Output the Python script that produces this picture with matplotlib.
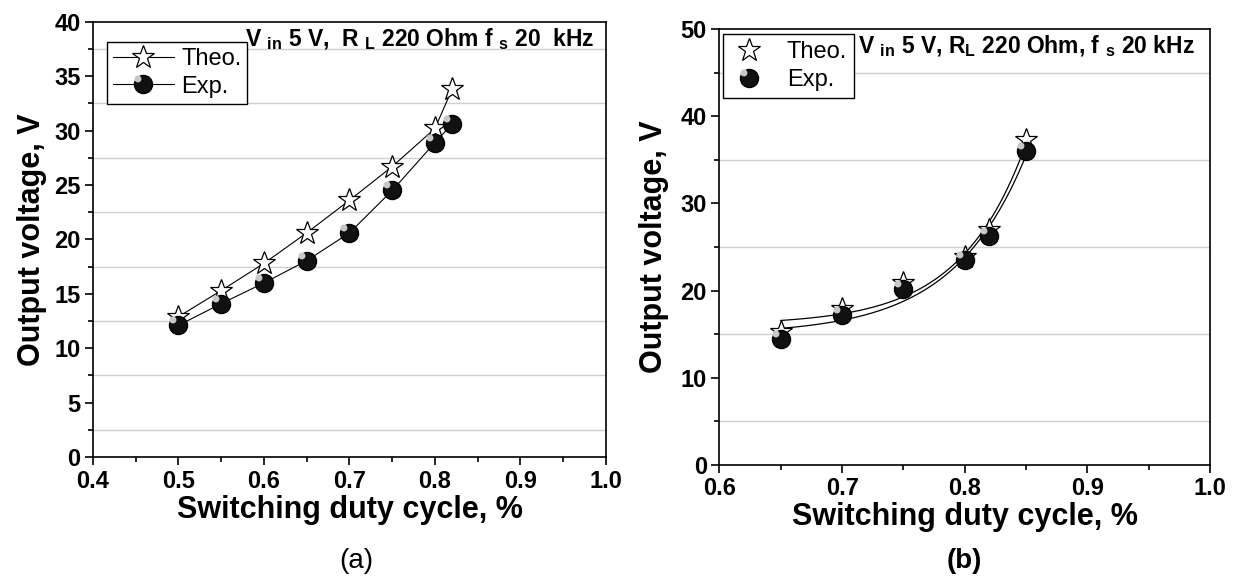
import matplotlib.pyplot as plt
import numpy as np
from matplotlib.path import Path
from matplotlib.ticker import MultipleLocator
from matplotlib.legend_handler import HandlerTuple

plt.rcParams['font.family'] = ['Liberation Sans', 'DejaVu Sans']
plt.rcParams['mathtext.fontset'] = 'custom'
plt.rcParams['mathtext.rm'] = 'Liberation Sans'
plt.rcParams['mathtext.bf'] = 'Liberation Sans:bold'

# (a) duty cycle vs output voltage
duty_a = [0.50, 0.55, 0.60, 0.65, 0.70, 0.75, 0.80, 0.82]
theo_a = [12.9, 15.3, 17.8, 20.6, 23.6, 26.7, 30.2, 33.8]
exp_a = [12.1, 14.1, 16.0, 18.05, 20.6, 24.5, 28.9, 30.6]

# (b)
duty_b = [0.65, 0.70, 0.75, 0.80, 0.82, 0.85]
theo_b = [15.3, 17.9, 20.9, 23.9, 26.9, 37.3]
exp_b = [14.5, 17.2, 20.2, 23.5, 26.3, 36.0]

# highlight spot on the black "ball" markers
hl_path = Path.circle(center=(-0.35, 0.35), radius=0.22)


def exp_fit(x, y):
    # y = y0 + A*exp(x/t), like Origin's ExpGrow1
    x = np.asarray(x)
    y = np.asarray(y)
    best = None
    for t in np.linspace(0.01, 0.3, 600):
        M = np.column_stack([np.ones_like(x), np.exp(x / t)])
        coef = np.linalg.lstsq(M, y, rcond=None)[0]
        err = np.sum((M @ coef - y) ** 2)
        if best is None or err < best[0]:
            best = (err, coef[0], coef[1], t)
    return best[1:]


def ball(ax, x, y, ls):
    b, = ax.plot(x, y, linestyle=ls, color='k', lw=0.8, marker='o',
                 markersize=13, markerfacecolor='#111111', markeredgecolor='k', zorder=4)
    h, = ax.plot(x, y, linestyle='none', marker=hl_path, markersize=13,
                 markerfacecolor='#c8c8c8', markeredgecolor='none', zorder=5)
    return (b, h)


def style(ax, xmaj, xmin, ymaj, ymin):
    ax.xaxis.set_major_locator(MultipleLocator(xmaj))
    ax.xaxis.set_minor_locator(MultipleLocator(xmin))
    ax.yaxis.set_major_locator(MultipleLocator(ymaj))
    ax.yaxis.set_minor_locator(MultipleLocator(ymin))
    ax.tick_params(which='major', direction='out', length=6, width=1.2, labelsize=17, pad=3)
    ax.tick_params(which='minor', direction='out', length=3.5, width=1.2)
    for lab in ax.get_xticklabels() + ax.get_yticklabels():
        lab.set_fontweight('bold')
    for s in ax.spines.values():
        s.set_linewidth(1.2)
    ax.grid(which='minor', axis='y', color='#cfcfcf', lw=1.0)
    ax.set_axisbelow(True)


fig = plt.figure(figsize=(12.43, 5.81), dpi=100)
ax1 = fig.add_axes([0.0748, 0.2134, 0.4127, 0.749])
ax2 = fig.add_axes([0.5788, 0.1997, 0.3946, 0.7504])

# ----- (a)
s1, = ax1.plot(duty_a, theo_a, color='k', lw=0.8, marker='*', markersize=17,
               markerfacecolor='white', markeredgecolor='k', markeredgewidth=0.9, zorder=3)
b1 = ball(ax1, duty_a, exp_a, '-')
ax1.set_xlim(0.4, 1.0)
ax1.set_ylim(0, 40)
style(ax1, 0.1, 0.05, 5, 2.5)
ax1.set_xlabel('Switching duty cycle, %', fontsize=22, fontweight='bold', labelpad=2)
ax1.set_ylabel('Output voltage, V', fontsize=22, fontweight='bold', labelpad=5)
ax1.legend([s1, b1], ['Theo.', 'Exp.'], handler_map={tuple: HandlerTuple(ndivide=1)},
           loc='upper left', bbox_to_anchor=(0.027, 0.954), borderaxespad=0,
           fontsize=17, fancybox=False, framealpha=1, edgecolor='k',
           handlelength=2.6, handletextpad=0.3, labelspacing=0.25, borderpad=0.25)
ax1.text(0.296, 0.944, r'V $_{\mathbf{in}}$ 5 V,  R $_{\mathbf{L}}$ 220 Ohm f $_{\mathbf{s}}$ 20  kHz',
         transform=ax1.transAxes, fontsize=16.5, fontweight='bold', va='baseline')
fig.text(0.2866, 0.035, '(a)', fontsize=20, ha='center', va='center')

# ----- (b)
s2, = ax2.plot(duty_b, theo_b, linestyle='none', marker='*', markersize=17,
               markerfacecolor='white', markeredgecolor='k', markeredgewidth=0.9, zorder=3)
b2 = ball(ax2, duty_b, exp_b, 'none')
xf = np.linspace(min(duty_b), max(duty_b), 200)
for ser in (theo_b, exp_b):
    y0, A, t = exp_fit(duty_b, ser)
    ax2.plot(xf, y0 + A * np.exp(xf / t), color='k', lw=0.9, zorder=2)
ax2.set_xlim(0.6, 1.0)
ax2.set_ylim(0, 50)
style(ax2, 0.1, 0.05, 10, 5)
ax2.set_xlabel('Switching duty cycle, %', fontsize=22, fontweight='bold', labelpad=1)
ax2.set_ylabel('Output voltage, V', fontsize=22, fontweight='bold', labelpad=8)
ax2.legend([s2, b2], ['Theo.', 'Exp.'], handler_map={tuple: HandlerTuple(ndivide=1)},
           loc='upper left', bbox_to_anchor=(0.007, 0.989), borderaxespad=0,
           fontsize=17, fancybox=False, framealpha=1, edgecolor='k',
           handlelength=1.6, handletextpad=0.8, labelspacing=0.25, borderpad=0.3)
ax2.text(0.282, 0.945, r'V $_{\mathbf{in}}$ 5 V, R$_{\mathbf{L}}$ 220 Ohm, f $_{\mathbf{s}}$ 20 kHz',
         transform=ax2.transAxes, fontsize=16.5, fontweight='bold', va='baseline')
fig.text(0.776, 0.035, '(b)', fontsize=20, fontweight='bold', ha='center', va='center')

plt.savefig('out.png', dpi=100)
